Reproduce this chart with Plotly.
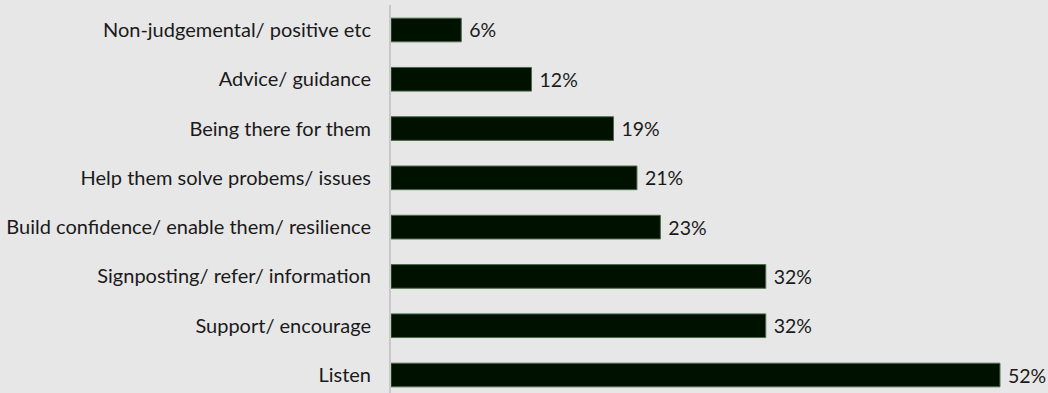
import plotly.graph_objects as go

categories = [
    "Listen",
    "Support/ encourage",
    "Signposting/ refer/ information",
    "Build confidence/ enable them/ resilience",
    "Help them solve probems/ issues",
    "Being there for them",
    "Advice/ guidance",
    "Non-judgemental/ positive etc",
]
values = [52, 32, 32, 23, 21, 19, 12, 6]
value_labels = [f" {v}%" for v in values]

FONT = "Lato"

fig = go.Figure(
    go.Bar(
        x=values,
        y=categories,
        orientation="h",
        width=0.48,
        marker=dict(color="#001100", line=dict(color="#4a6a48", width=1)),
        text=value_labels,
        textposition="outside",
        textfont=dict(family=FONT, size=19.5, color="#1a1a1a"),
        cliponaxis=False,
    )
)

fig.update_layout(
    width=1048,
    height=393,
    paper_bgcolor="#e7e7e7",
    plot_bgcolor="#e7e7e7",
    margin=dict(l=391, r=0, t=5, b=0),
    showlegend=False,
    font=dict(family=FONT, size=19.5, color="#1a1a1a"),
    xaxis=dict(
        range=[0, 56.1],
        showgrid=False,
        zeroline=False,
        showticklabels=False,
        showline=False,
        fixedrange=True,
    ),
    yaxis=dict(
        type="category",
        categoryorder="array",
        categoryarray=categories,
        range=[-0.365, 7.507],
        showgrid=False,
        zeroline=False,
        showline=True,
        linecolor="#c8c8c8",
        linewidth=2,
        ticks="",
        ticklabelstandoff=14,
        tickfont=dict(family=FONT, size=20, color="#1a1a1a"),
        fixedrange=True,
    ),
)

fig.write_html("out.html")
